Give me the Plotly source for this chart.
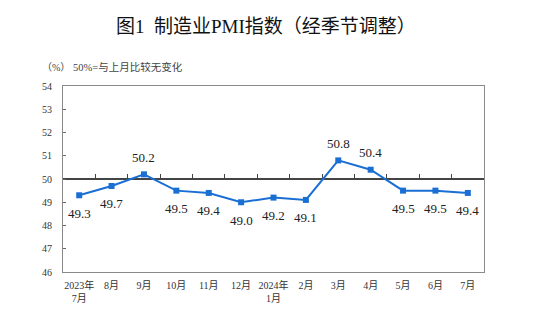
import plotly.graph_objects as go

months = ["2023年<br>7月", "8月", "9月", "10月", "11月", "12月", "2024年<br>1月",
          "2月", "3月", "4月", "5月", "6月", "7月"]
pmi = [49.3, 49.7, 50.2, 49.5, 49.4, 49.0, 49.2, 49.1, 50.8, 50.4, 49.5, 49.5, 49.4]
label_above = [False, False, True, False, False, False, False, False, True, True, False, False, False]
y_ticks = [46, 47, 48, 49, 50, 51, 52, 53, 54]
boundaries = [i + 0.5 for i in range(len(months) - 1)]

LINE = "#1a6fd4"
SERIF = "Liberation Serif, Noto Sans CJK SC"

fig = go.Figure()
fig.add_trace(go.Scatter(
    x=months, y=pmi, mode="lines+markers",
    line=dict(color=LINE, width=2),
    marker=dict(symbol="square", size=6, color=LINE),
    showlegend=False, hoverinfo="skip",
))
fig.add_trace(go.Scatter(x=[], y=[], xaxis="x2", yaxis="y", showlegend=False, hoverinfo="skip"))

for m, v, up in zip(months, pmi, label_above):
    fig.add_annotation(
        x=m, y=v, text=f"{v:.1f}", showarrow=False,
        yshift=17 if up else -18,
        font=dict(family=SERIF, size=13, color="#222"),
    )

fig.add_annotation(xref="paper", yref="paper", x=-0.055, y=1.0, yshift=19,
                   xanchor="left", yanchor="middle", text="（%）", showarrow=False,
                   font=dict(family=SERIF, size=10, color="#444"))
fig.add_annotation(xref="paper", yref="paper", x=0.019, y=1.0, yshift=19,
                   xanchor="left", yanchor="middle", text="50%=与上月比较无变化", showarrow=False,
                   font=dict(family=SERIF, size=10.5, color="#444"))

fig.update_layout(
    width=554, height=323,
    margin=dict(l=63, r=70, t=86, b=51),
    paper_bgcolor="white", plot_bgcolor="white",
    title=dict(text="图1  制造业PMI指数（经季节调整）", x=0.48, xanchor="center",
               y=1 - 26 / 323, yanchor="middle", yref="container",
               font=dict(family=SERIF, size=19, color="#111")),
    xaxis=dict(type="category", range=[-0.5, 12.5], showgrid=False, zeroline=False,
               showline=True, mirror=True, linecolor="#8a8a8a", linewidth=1.2,
               ticks="", tickfont=dict(family=SERIF, size=10, color="#333"),
               ticklabelstandoff=4),
    xaxis2=dict(overlaying="x", anchor="free", position=0.5, type="linear",
                range=[-0.5, 12.5], tickmode="array", tickvals=boundaries,
                ticks="inside", ticklen=4, tickcolor="#444", tickwidth=1,
                showline=True, linecolor="#444", linewidth=1.5,
                showticklabels=False, showgrid=False, zeroline=False,
                layer="below traces"),
    yaxis=dict(range=[46, 54], tickmode="array", tickvals=y_ticks, showgrid=False,
               zeroline=False, showline=True, mirror=True, linecolor="#8a8a8a",
               linewidth=1.2, ticks="inside", ticklen=3, tickcolor="#666",
               tickfont=dict(family=SERIF, size=10, color="#333"),
               ticklabelstandoff=8),
)

fig.write_html("out.html")
